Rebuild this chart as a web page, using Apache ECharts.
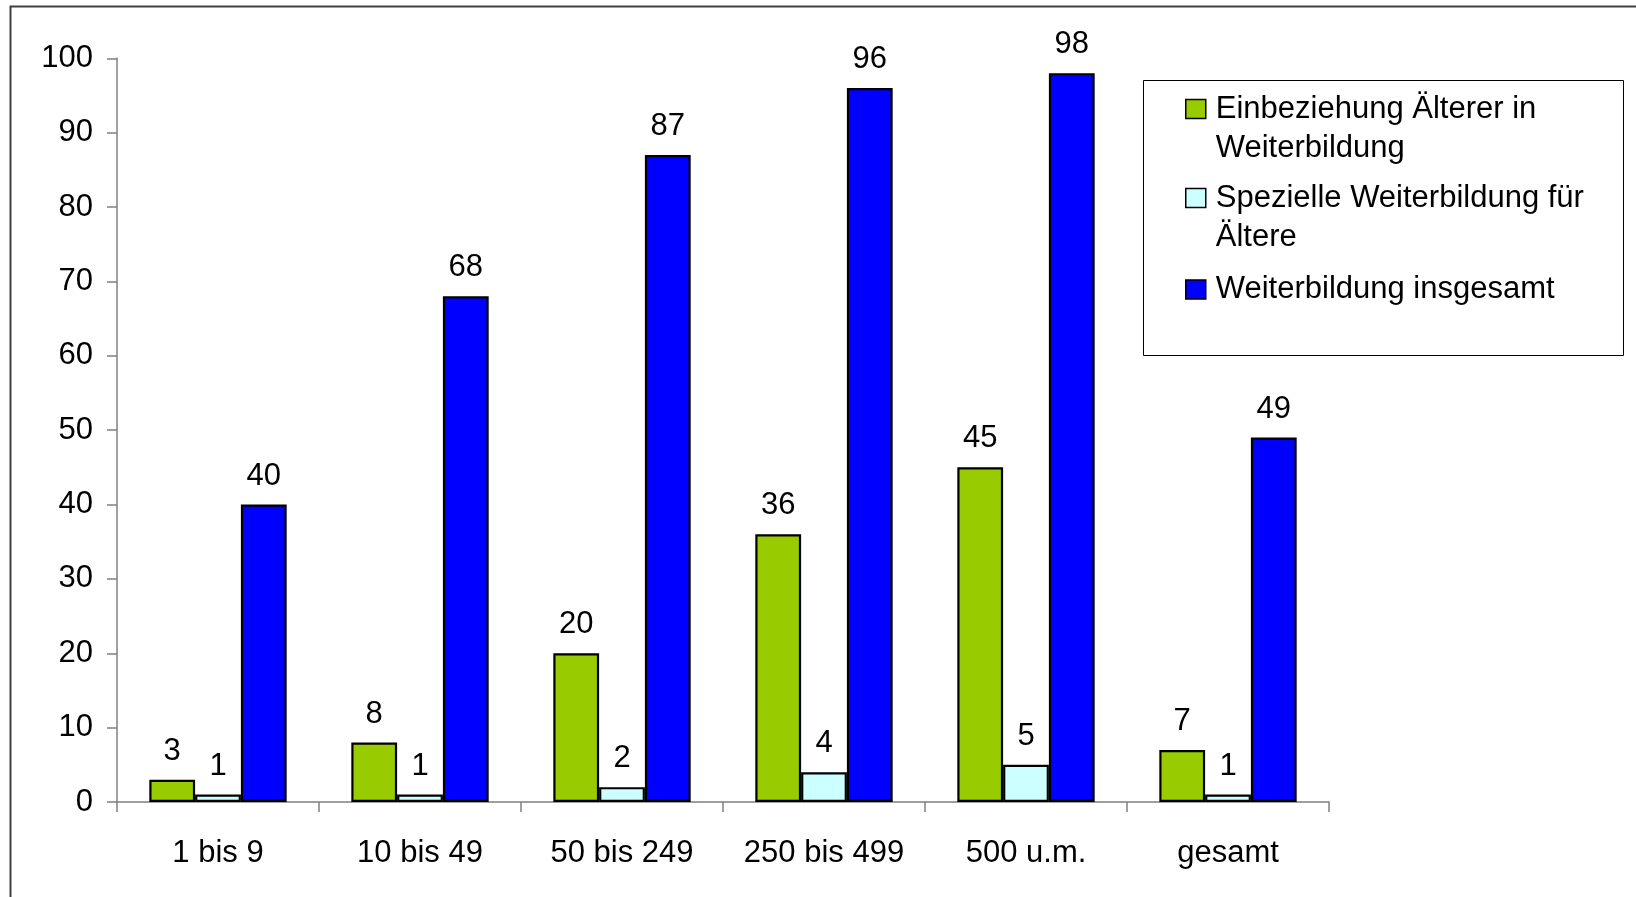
<!DOCTYPE html>
<html>
<head>
<meta charset="utf-8">
<script src="https://cdn.jsdelivr.net/npm/echarts@6/dist/echarts.min.js"></script>
<style>
html,body{margin:0;padding:0;background:#fff;}
#chart{width:1636px;height:897px;}
</style>
</head>
<body>
<div id="chart"></div>
<script>
const categories = ['1 bis 9', '10 bis 49', '50 bis 249', '250 bis 499', '500 u.m.', 'gesamt'];
const seriesNames = ['Einbeziehung Älterer in Weiterbildung', 'Spezielle Weiterbildung für Ältere', 'Weiterbildung insgesamt'];
const einbeziehung = [3, 8, 20, 36, 45, 7];
const speziell = [1, 1, 2, 4, 5, 1];
const insgesamt = [40, 68, 87, 96, 98, 49];
const yTicks = { min: 0, max: 100, interval: 10 };

// legend text with wrapping as in the original; a leading blank line keeps the
// first text line level with the icon
const legendLabels = {
  'Einbeziehung Älterer in Weiterbildung': ' \nEinbeziehung Älterer in\nWeiterbildung',
  'Spezielle Weiterbildung für Ältere': ' \nSpezielle Weiterbildung für\nÄltere',
  'Weiterbildung insgesamt': 'Weiterbildung insgesamt'
};

const FONT = 'Liberation Sans, Arial, sans-serif';
const colors = ['#99CC00', '#CCFFFF', '#0000FF'];
const values = [einbeziehung, speziell, insgesamt];

const LH = 39;
function legendFor(i, top) {
  return {
    data: [seriesNames[i]],
    left: 1185,
    top: top,
    padding: 0,
    orient: 'vertical',
    itemWidth: 20,
    itemHeight: 19,
    selectedMode: false,
    icon: 'rect',
    itemStyle: { borderColor: '#000', borderWidth: 1.5 },
    formatter: function (n) { return legendLabels[n]; },
    textStyle: {
      fontFamily: FONT,
      fontSize: 31,
      color: '#000',
      lineHeight: LH,
      padding: [0, 0, 0, 5],
      backgroundColor: 'rgba(255,255,255,0)'
    }
  };
}

const chart = echarts.init(document.getElementById('chart'), null, { renderer: 'canvas' });
chart.setOption({
  animation: false,
  backgroundColor: '#fff',
  color: colors,
  grid: { left: 117, right: 307, top: 58.3, bottom: 95, containLabel: false, outerBoundsMode: 'none' },
  legend: [legendFor(0, 50.5), legendFor(1, 139.5), legendFor(2, 270)],
  graphic: [
    { type: 'rect', silent: true, z: -1, shape: { x: 10.5, y: 6.5, width: 1700, height: 1000 },
      style: { fill: 'none', stroke: '#404040', lineWidth: 2 } },
    { type: 'rect', silent: true, z: -1, shape: { x: 1143.5, y: 80.5, width: 480, height: 275 },
      style: { fill: '#fff', stroke: '#000', lineWidth: 1 } }
  ],
  xAxis: {
    type: 'category',
    data: categories,
    axisLine: { lineStyle: { color: '#808080', width: 1.5 } },
    axisTick: { show: true, length: 10, lineStyle: { color: '#808080', width: 1.5 } },
    axisLabel: { fontFamily: FONT, fontSize: 31, color: '#000', margin: 36, interval: 0 },
    splitLine: { show: false }
  },
  yAxis: {
    type: 'value',
    min: yTicks.min,
    max: yTicks.max,
    interval: yTicks.interval,
    axisLine: { show: true, lineStyle: { color: '#808080', width: 1.5 } },
    axisTick: { show: true, length: 10, lineStyle: { color: '#808080', width: 1.5 } },
    axisLabel: { fontFamily: FONT, fontSize: 31, color: '#000', margin: 24 },
    splitLine: { show: false }
  },
  series: seriesNames.map(function (name, i) {
    return {
      name: name,
      type: 'bar',
      data: values[i],
      barGap: '0%',
      barCategoryGap: '32%',
      itemStyle: { color: colors[i], borderColor: '#000', borderWidth: 2.2 },
      label: { show: true, position: 'top', distance: 13, fontFamily: FONT, fontSize: 31, color: '#000' }
    };
  })
});
</script>
</body>
</html>
